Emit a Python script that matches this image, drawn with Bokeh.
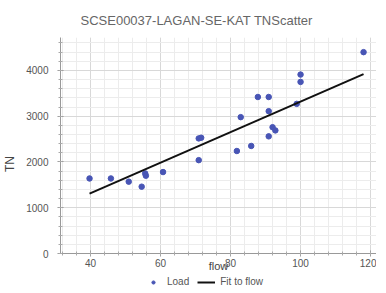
from bokeh.plotting import figure
from bokeh.embed import file_html
from bokeh.resources import INLINE
from bokeh.models import (Range1d, SingleIntervalTicker, Legend, LegendItem,
                          BoxAnnotation)

flow = [39.7, 45.8, 50.9, 54.6, 55.6, 55.8, 60.7, 70.9, 70.9, 71.6, 81.8, 82.9,
        85.9, 87.8, 90.9, 90.9, 90.9, 92.0, 92.8, 98.9, 100.0, 100.0, 118.0]
tn = [1640, 1640, 1570, 1460, 1750, 1700, 1780, 2040, 2515, 2530, 2240, 2980,
      2350, 3420, 3420, 3110, 2560, 2760, 2690, 3270, 3750, 3910, 4400]
fit_x = [39.7, 118.0]
fit_y = [1310, 3920]

FONT = "Liberation Sans"

p = figure(frame_width=316, frame_height=253, output_backend="svg",
           toolbar_location=None,
           x_range=Range1d(31.4, 121.7), y_range=Range1d(-808, 4720),
           min_border_left=54, min_border_right=0, min_border_top=29,
           min_border_bottom=0,
           title="SCSE00037-LAGAN-SE-KAT TNScatter")
p.outline_line_color = None
p.background_fill_color = "white"
p.border_fill_color = "white"

p.title.align = "left"
p.title.offset = 20
p.title.standoff = 20
p.title.text_font = FONT
p.title.text_font_size = "13px"
p.title.text_font_style = "normal"
p.title.text_color = "#666666"

p.xaxis.ticker = SingleIntervalTicker(interval=20, num_minor_ticks=5)
p.yaxis.ticker = SingleIntervalTicker(interval=1000, num_minor_ticks=5)
p.xaxis.fixed_location = 0
p.yaxis.bounds = (0, 4720)

for ax in (p.xaxis[0], p.yaxis[0]):
    ax.axis_line_color = "#999999"
    ax.major_tick_line_color = "#999999"
    ax.minor_tick_line_color = "#aaaaaa"
    ax.major_tick_in = 3
    ax.major_tick_out = 3
    ax.minor_tick_in = 2
    ax.minor_tick_out = 2
    ax.major_label_text_font = FONT
    ax.major_label_text_font_size = "10px"
    ax.major_label_text_color = "#555555"
    ax.axis_label_text_font = FONT
    ax.axis_label_text_font_style = "normal"
    ax.axis_label_text_color = "#444444"

p.xaxis.axis_label = "flow"
p.xaxis.axis_label_text_font_size = "11px"
p.xaxis.axis_label_standoff = -10
p.xaxis.major_label_standoff = 2
p.yaxis.axis_label = "TN"
p.yaxis.axis_label_text_font_size = "12px"
p.yaxis.axis_label_standoff = 6
p.yaxis.major_label_standoff = 9

p.xgrid.grid_line_color = "#d8d8d8"
p.ygrid.grid_line_color = "#d8d8d8"
p.xgrid.minor_grid_line_color = "#ececec"
p.ygrid.minor_grid_line_color = "#ececec"
p.xgrid.level = "image"
p.ygrid.level = "image"

# blank area below the zero line (where tick labels and legend sit)
p.add_layout(BoxAnnotation(top=0, fill_color="white", fill_alpha=1.0,
                           line_color=None, level="underlay"))

pts = p.scatter(flow, tn, size=5.5, color="#4855b5", line_color="#4855b5")
ln = p.line(fit_x, fit_y, line_width=2, line_color="#111111")

legend = Legend(items=[LegendItem(label="Load", renderers=[pts]),
                       LegendItem(label="Fit to flow", renderers=[ln])],
                orientation="horizontal", location=(84, 3),
                border_line_color=None, background_fill_alpha=0,
                label_text_font=FONT, label_text_font_size="10px",
                label_text_color="#555555", glyph_width=18, glyph_height=8,
                label_standoff=5, spacing=8, padding=0, margin=0,
                label_height=8)
p.add_layout(legend, "center")

open("out.html", "w").write(file_html(p, INLINE))
